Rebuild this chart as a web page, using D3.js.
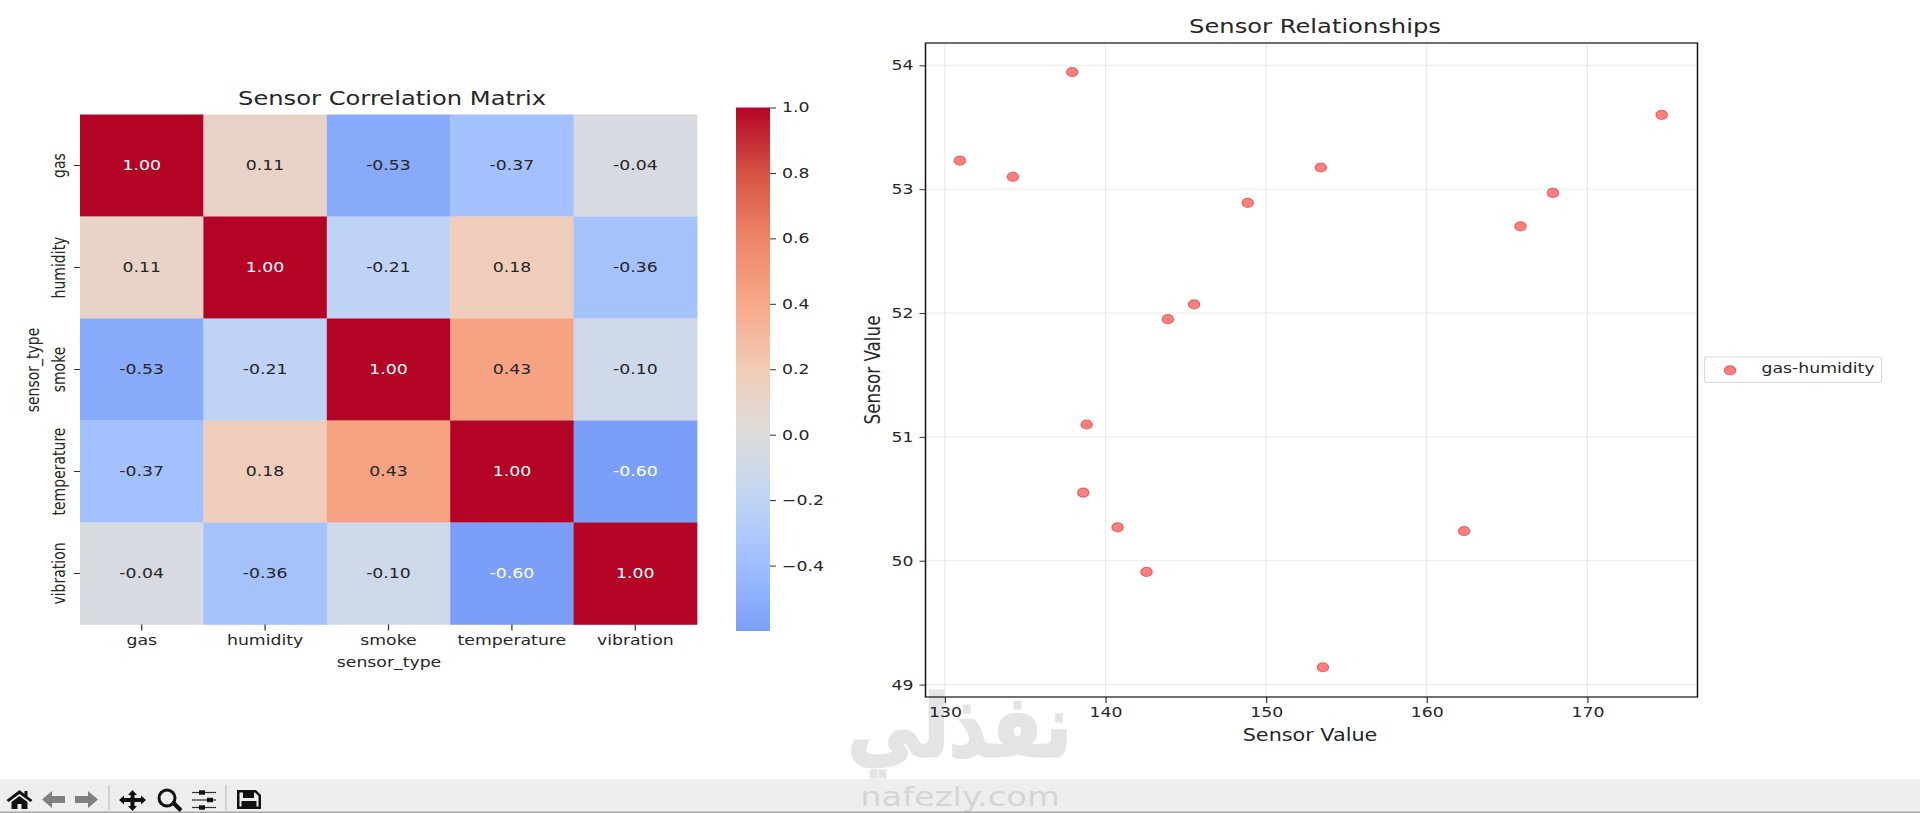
<!DOCTYPE html>
<html>
<head>
<meta charset="utf-8">
<title>Sensor charts</title>
<script src="https://cdn.jsdelivr.net/npm/d3@7"></script>
<style>
    html, body { margin: 0; padding: 0; background: #fff; overflow: hidden; }
    text { font-family: "DejaVu Sans", sans-serif; fill: #262626; }
    .domain { display: none; }
</style>
</head>
<body>
<div id="chart"></div>
<script>
const sensors = ['gas', 'humidity', 'smoke', 'temperature', 'vibration']
const correlations = [
    [1.00, 0.11, -0.53, -0.37, -0.04],
    [0.11, 1.00, -0.21, 0.18, -0.36],
    [-0.53, -0.21, 1.00, 0.43, -0.10],
    [-0.37, 0.18, 0.43, 1.00, -0.60],
    [-0.04, -0.36, -0.10, -0.60, 1.00],
]
const colorbarTicks = [-0.4, -0.2, 0, 0.2, 0.4, 0.6, 0.8, 1]
const coolwarm = ['#3b4cc0', '#5a78e4', '#7b9ff9', '#9ebeff', '#c0d4f5', '#dddcdc',
    '#f2cbb7', '#f7a889', '#ee8468', '#d65244', '#b40426']

const gasValues = [137.93, 130.94, 134.24, 174.63, 153.41, 148.86, 167.86, 165.84,
    145.52, 143.89, 138.83, 138.62, 140.76, 142.56, 162.33, 153.54]
const humidityValues = [53.945, 53.23, 53.10, 53.60, 53.175, 52.89, 52.97, 52.70,
    52.07, 51.95, 51.10, 50.55, 50.27, 49.91, 50.24, 49.14]
const scatterXTicks = [130, 140, 150, 160, 170]
const scatterYTicks = [49, 50, 51, 52, 53, 54]

// the whole figure is a bit wider than tall in the source, so stretch it
const width = 1920
const height = 813
const stretch = 1.235
const sx = (px) => px / stretch
const tickFont = 14
const titleFont = 19.6
const axisLabelFont = 16.8

const svg = d3.select('#chart').append('svg')
    .attr('width', width)
    .attr('height', height)
    .style('display', 'block')

const figure = svg.append('g').attr('transform', `scale(${stretch},1)`)

const colorAt = d3.scaleLinear()
    .domain(d3.range(coolwarm.length).map(i => -1 + i * 0.2))
    .range(coolwarm)

// same rule seaborn uses to pick the annotation colour
function luminance(color) {
    const c = d3.rgb(color)
    const lin = (v) => {
        const s = v / 255
        return s <= 0.03928 ? s / 12.92 : Math.pow((s + 0.055) / 1.055, 2.4)
    }
    return 0.2126 * lin(c.r) + 0.7152 * lin(c.g) + 0.0722 * lin(c.b)
}

function label(parent, text, x, y, size, rotate) {
    const t = parent.append('text')
        .attr('text-anchor', 'middle')
        .attr('dominant-baseline', 'central')
        .attr('font-size', size)
        .text(text)
    t.attr('transform', `translate(${sx(x)},${y})` + (rotate ? ' rotate(-90)' : ''))
    return t
}

function styleTicks(axisG) {
    axisG.selectAll('.tick line').attr('stroke', '#333').attr('stroke-width', 1)
    axisG.selectAll('.tick text').attr('font-size', tickFont).style('fill', '#262626')
}

function drawHeatmap() {
    const g = figure.append('g')
    const x = d3.scaleBand().domain(sensors).range([sx(80), sx(697)])
    const y = d3.scaleBand().domain(sensors).range([114.5, 624.5])

    const cells = sensors.flatMap((row, i) => sensors.map((col, j) => ({
        row, col, value: correlations[i][j],
    })))

    g.selectAll('rect.cell').data(cells).join('rect')
        .attr('class', 'cell')
        .attr('x', d => x(d.col))
        .attr('y', d => y(d.row))
        .attr('width', x.bandwidth() + 0.3)
        .attr('height', y.bandwidth() + 0.3)
        .attr('fill', d => colorAt(d.value))

    g.selectAll('text.annot').data(cells).join('text')
        .attr('class', 'annot')
        .attr('x', d => x(d.col) + x.bandwidth() / 2)
        .attr('y', d => y(d.row) + y.bandwidth() / 2)
        .attr('text-anchor', 'middle')
        .attr('dominant-baseline', 'central')
        .attr('font-size', tickFont)
        .style('fill', d => luminance(colorAt(d.value)) < 0.408 ? '#ffffff' : '#262626')
        .text(d => d3.format('.2f')(d.value).replace('−', '-'))

    const bottom = g.append('g')
        .attr('transform', 'translate(0,624.5)')
        .call(d3.axisBottom(x).tickSize(6).tickPadding(5))
    styleTicks(bottom)

    const left = g.append('g')
        .attr('transform', `translate(${sx(80)},0)`)
        .call(d3.axisLeft(y).tickSize(sx(6)).tickPadding(0))
    styleTicks(left)
    left.selectAll('.tick text')
        .attr('text-anchor', 'middle')
        .attr('dominant-baseline', 'central')
        .attr('x', 0).attr('dy', 0)
        .attr('transform', `translate(${sx(58.5 - 80)},0) rotate(-90)`)

    label(g, 'Sensor Correlation Matrix', 392, 98.5, titleFont)
    label(g, 'sensor_type', 389, 662, tickFont)
    label(g, 'sensor_type', 33, 370, tickFont, true)
}

function drawColorbar() {
    const g = figure.append('g')
    const y = d3.scaleLinear().domain([-0.6, 1]).range([631, 107.5])
    const barX = sx(736)
    const barW = sx(34)

    const grad = svg.append('defs').append('linearGradient')
        .attr('id', 'cbar')
        .attr('x1', 0).attr('y1', 1).attr('x2', 0).attr('y2', 0)
    const stops = d3.range(-0.6, 1.001, 0.2)
    grad.selectAll('stop').data(stops).join('stop')
        .attr('offset', d => (d + 0.6) / 1.6)
        .attr('stop-color', d => colorAt(d))

    g.append('rect')
        .attr('x', barX).attr('y', y(1))
        .attr('width', barW).attr('height', y(-0.6) - y(1))
        .attr('fill', 'url(#cbar)')

    const axis = g.append('g')
        .attr('transform', `translate(${barX + barW},0)`)
        .call(d3.axisRight(y).tickValues(colorbarTicks).tickFormat(d3.format('.1f'))
            .tickSize(sx(6)).tickPadding(sx(6)))
    styleTicks(axis)
}

function drawScatter() {
    const g = figure.append('g')
    const x = d3.scaleLinear().domain([128.8, 176.86]).range([sx(925.5), sx(1697.5)])
    const y = d3.scaleLinear().domain([48.9, 54.18]).range([697, 43])

    const gridX = g.append('g')
    gridX.selectAll('line').data(scatterXTicks).join('line')
        .attr('x1', d => x(d)).attr('x2', d => x(d))
        .attr('y1', y.range()[0]).attr('y2', y.range()[1])
        .attr('stroke', '#b0b0b0').attr('stroke-opacity', 0.25)
    const gridY = g.append('g')
    gridY.selectAll('line').data(scatterYTicks).join('line')
        .attr('y1', d => y(d)).attr('y2', d => y(d))
        .attr('x1', x.range()[0]).attr('x2', x.range()[1])
        .attr('stroke', '#b0b0b0').attr('stroke-opacity', 0.25)

    g.selectAll('circle.pt').data(gasValues).join('circle')
        .attr('class', 'pt')
        .attr('cx', d => x(d))
        .attr('cy', (d, i) => y(humidityValues[i]))
        .attr('r', 4.6)
        .attr('fill', '#ff0000')
        .attr('fill-opacity', 0.5)
        .attr('stroke', '#d02020')
        .attr('stroke-opacity', 0.55)

    const bottom = g.append('g')
        .attr('transform', 'translate(0,697)')
        .call(d3.axisBottom(x).tickValues(scatterXTicks).tickSize(6).tickPadding(4))
    styleTicks(bottom)

    const left = g.append('g')
        .attr('transform', `translate(${sx(925.5)},0)`)
        .call(d3.axisLeft(y).tickValues(scatterYTicks).tickFormat(d3.format('d'))
            .tickSize(sx(6)).tickPadding(sx(6)))
    styleTicks(left)

    g.append('rect')
        .attr('x', sx(925.5)).attr('y', 43)
        .attr('width', sx(772)).attr('height', 654)
        .attr('fill', 'none').attr('stroke', '#111').attr('stroke-width', 1.2)

    label(g, 'Sensor Relationships', 1315, 26, titleFont)
    label(g, 'Sensor Value', 1310, 735, axisLabelFont)
    label(g, 'Sensor Value', 872, 370, axisLabelFont, true)

    // legend
    g.append('rect')
        .attr('x', sx(1704.5)).attr('y', 357)
        .attr('width', sx(177)).attr('height', 25.5)
        .attr('rx', 2.5).attr('ry', 2.5)
        .attr('fill', '#fff').attr('stroke', '#d9d9d9')
    g.append('circle')
        .attr('cx', sx(1730)).attr('cy', 370.3).attr('r', 4.6)
        .attr('fill', '#ff0000').attr('fill-opacity', 0.5)
        .attr('stroke', '#d02020').attr('stroke-opacity', 0.55)
    g.append('text')
        .attr('x', sx(1761.5)).attr('y', 368.5)
        .attr('dominant-baseline', 'central')
        .attr('font-size', tickFont)
        .text('gas-humidity')
}

function drawToolbar() {
    const bar = svg.append('g')
    bar.append('rect').attr('x', 0).attr('y', 779).attr('width', width).attr('height', 33).attr('fill', '#eeeeee')
    bar.append('rect').attr('x', 0).attr('y', 811.5).attr('width', width).attr('height', 1.5).attr('fill', '#a8a8a8')

    const icon = (d, x, fill = '#111', extra = {}) => {
        const p = bar.append('path').attr('d', d).attr('transform', `translate(${x},790)`).attr('fill', fill)
        Object.entries(extra).forEach(([k, v]) => p.attr(k, v))
    }
    // home
    icon('M0,10 L13,0 L18,4 L18,1 L21,1 L21,6.5 L26,10 L24,12 L13,4 L2,12 Z M5,12 L13,6 L21,12 L21,19 L15,19 L15,14 L11,14 L11,19 L5,19 Z', 6.5)
    // back, forward
    icon('M0,9.5 L10,1 L10,6 L23,6 L23,13 L10,13 L10,18 Z', 42, '#808080')
    icon('M23,9.5 L13,1 L13,6 L0,6 L0,13 L13,13 L13,18 Z', 75, '#808080')
    // pan
    icon('M13.5,0 L18,5 L15.5,5 L15.5,8 L22,8 L22,5.5 L27,10 L22,14.5 L22,12 L15.5,12 L15.5,16 L18,16 L13.5,21 L9,16 L11.5,16 L11.5,12 L5,12 L5,14.5 L0,10 L5,5.5 L5,8 L11.5,8 L11.5,5 L9,5 Z', 119)
    // zoom
    bar.append('circle').attr('cx', 167).attr('cy', 798).attr('r', 8).attr('fill', 'none').attr('stroke', '#111').attr('stroke-width', 3)
    icon('M4,0 L12,8 L9,11 L1,3 Z', 170.5, '#111', { transform: 'translate(170.5,801)' })
    // sliders
    const sliderY = [792.5, 800, 807.5]
    const knobX = [199, 207, 199]
    sliderY.forEach((y, i) => {
        bar.append('rect').attr('x', 192).attr('y', y - 0.6).attr('width', 24).attr('height', 1.2).attr('fill', '#333')
        bar.append('rect').attr('x', knobX[i]).attr('y', y - 2.2).attr('width', 6).attr('height', 4.4).attr('fill', '#111')
    })
    // save
    icon('M0,0 L19,0 L24,5 L24,19 L0,19 Z M2.5,2.5 L2.5,16.5 L21.5,16.5 L21.5,6 L18,2.5 L17,2.5 L17,8 L6,8 L6,2.5 Z M4.5,11 L19.5,11 L19.5,16.5 L4.5,16.5 Z', 237, '#111', { 'fill-rule': 'evenodd' })

    const separators = [109, 226]
    bar.selectAll('line.sep').data(separators).join('line')
        .attr('class', 'sep')
        .attr('x1', d => d).attr('x2', d => d)
        .attr('y1', 785).attr('y2', 810)
        .attr('stroke', '#b5b5b5')
}

function drawWatermark() {
    const w = svg.append('g').attr('opacity', 0.1)
    w.append('text')
        .attr('transform', 'translate(959.5,756) scale(0.85,1)')
        .attr('text-anchor', 'middle')
        .attr('font-size', 86)
        .attr('font-weight', 'bold')
        .attr('stroke', '#000')
        .attr('stroke-width', 3)
        .style('fill', '#000')
        .text('نفذلي')
    w.append('text')
        .attr('transform', 'translate(960,806) scale(1.25,1)')
        .attr('text-anchor', 'middle')
        .attr('font-size', 27)
        .style('fill', '#000')
        .text('nafezly.com')
}

drawHeatmap()
drawColorbar()
drawScatter()
drawToolbar()
drawWatermark()
</script>
</body>
</html>
